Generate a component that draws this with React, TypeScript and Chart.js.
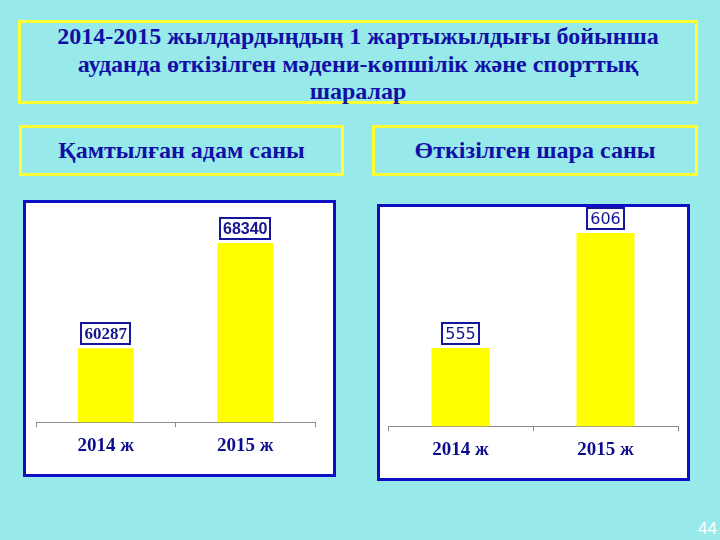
import React, { useEffect, useRef } from "react";
import { Chart, registerables } from "chart.js";

Chart.register(...registerables);

const categories = ["2014 ж", "2015 ж"];
const peopleValues = [60287, 68340];
const eventValues = [555, 606];

const titleLines = [
  "2014-2015 жылдардыңдың 1 жартыжылдығы бойынша",
  "ауданда өткізілген мәдени-көпшілік және спорттық",
  "шаралар",
];
const leftCaption = "Қамтылған адам саны";
const rightCaption = "Өткізілген шара саны";
const pageNumber = "44";

const BG = "#98e9ea";
const YELLOW = "#ffff33";
const PANEL_BLUE = "#0e0ec4";
const TEXT_BLUE = "#1010a6";
const LABEL_BLUE = "#0c0c8e";

type PanelProps = {
  values: number[];
  min: number;
  max: number;
  left: number;
  top: number;
  width: number;
  height: number;
  padding: { left: number; right: number; top: number; bottom: number };
  labelFonts: string[];
};

const valueBoxPlugin = {
  id: "valueBoxes",
  afterDatasetsDraw(chart: any, _args: any, opts: any) {
    const ctx = chart.ctx;
    const meta = chart.getDatasetMeta(0);
    const data = chart.data.datasets[0].data as number[];
    meta.data.forEach((bar: any, i: number) => {
      const text = String(data[i]);
      ctx.save();
      ctx.font = opts.fonts[i];
      const tw = ctx.measureText(text).width;
      const bw = Math.round(tw + 8);
      const bh = 23;
      const x = Math.round(bar.x - bw / 2);
      const y = Math.round(bar.y - 3 - bh);
      ctx.fillStyle = "#ffffff";
      ctx.fillRect(x, y, bw, bh);
      ctx.lineWidth = 2;
      ctx.strokeStyle = "#16169a";
      ctx.strokeRect(x + 1, y + 1, bw - 2, bh - 2);
      ctx.fillStyle = "#16168c";
      ctx.textAlign = "center";
      ctx.textBaseline = "middle";
      ctx.fillText(text, bar.x, y + bh / 2 + 1);
      ctx.restore();
    });
  },
};

function BarPanel(p: PanelProps) {
  const ref = useRef<HTMLCanvasElement | null>(null);
  useEffect(() => {
    if (!ref.current) return;
    const chart = new Chart(ref.current, {
      type: "bar",
      data: {
        labels: categories,
        datasets: [
          {
            data: p.values,
            backgroundColor: "#ffff00",
            borderWidth: 0,
            barPercentage: 0.4,
            categoryPercentage: 1,
          },
        ],
      },
      options: {
        responsive: false,
        animation: false,
        devicePixelRatio: 1,
        layout: { padding: p.padding },
        plugins: {
          legend: { display: false },
          tooltip: { enabled: false },
          title: { display: false },
          valueBoxes: { fonts: p.labelFonts },
        } as any,
        scales: {
          x: {
            grid: {
              display: true,
              drawOnChartArea: false,
              drawTicks: true,
              tickLength: 5,
              color: "#8a8a8a",
              offset: true,
            },
            border: { display: true, color: "#8a8a8a", width: 1 },
            ticks: {
              color: LABEL_BLUE,
              padding: 7,
              font: { family: "'Liberation Serif', 'DejaVu Serif', serif", size: 19, weight: "bold" },
            },
          },
          y: {
            display: false,
            min: p.min,
            max: p.max,
          },
        },
      },
      plugins: [valueBoxPlugin],
    });
    return () => chart.destroy();
  }, []);
  const inner = { w: p.width - 6, h: p.height - 6 };
  return (
    <div
      style={{
        position: "absolute",
        left: p.left,
        top: p.top,
        width: p.width,
        height: p.height,
        boxSizing: "border-box",
        border: `3px solid ${PANEL_BLUE}`,
        background: "#ffffff",
      }}
    >
      <canvas
        ref={ref}
        width={inner.w}
        height={inner.h}
        style={{ position: "absolute", left: 0, top: 0, width: inner.w, height: inner.h }}
      />
    </div>
  );
}

const boxStyle = (left: number, top: number, width: number, height: number): React.CSSProperties => ({
  position: "absolute",
  left,
  top,
  width,
  height,
  boxSizing: "border-box",
  border: `3px solid ${YELLOW}`,
  display: "flex",
  flexDirection: "column",
  alignItems: "center",
  justifyContent: "center",
  color: TEXT_BLUE,
  fontFamily: "'Liberation Serif', 'DejaVu Serif', serif",
  fontWeight: "bold",
  textAlign: "center",
  whiteSpace: "nowrap",
});

export default function App() {
  useEffect(() => {
    document.body.style.margin = "0";
    document.body.style.overflow = "hidden";
  }, []);
  return (
    <div
      style={{
        position: "absolute",
        left: 0,
        top: 0,
        width: 720,
        height: 540,
        background: BG,
        overflow: "hidden",
      }}
    >
      <div style={{ ...boxStyle(18, 20, 680, 84), fontSize: 24, lineHeight: "27.5px", paddingTop: 5 }}>
        {titleLines.map((t, i) => (
          <div key={i}>{t}</div>
        ))}
      </div>
      <div style={{ ...boxStyle(19, 125, 325, 51), fontSize: 24 }}>{leftCaption}</div>
      <div style={{ ...boxStyle(372, 125, 326, 51), fontSize: 24 }}>{rightCaption}</div>

      <BarPanel
        values={peopleValues}
        min={54612}
        max={70641}
        left={23}
        top={200}
        width={313}
        height={277}
        padding={{ left: 10, right: 18, top: 10, bottom: 10 }}
        labelFonts={[
          "bold 17px 'Liberation Serif', serif",
          "bold 16px 'Liberation Sans', sans-serif",
        ]}
      />
      <BarPanel
        values={eventValues}
        min={520.4}
        max={613.1}
        left={377}
        top={204}
        width={313}
        height={277}
        padding={{ left: 8, right: 9, top: 10, bottom: 10 }}
        labelFonts={[
          "16px 'DejaVu Sans', sans-serif",
          "16px 'DejaVu Sans', sans-serif",
        ]}
      />

      <div
        style={{
          position: "absolute",
          right: 3,
          top: 519,
          color: "#ffffff",
          fontFamily: "'Liberation Sans', sans-serif",
          fontSize: 17,
        }}
      >
        {pageNumber}
      </div>
    </div>
  );
}
